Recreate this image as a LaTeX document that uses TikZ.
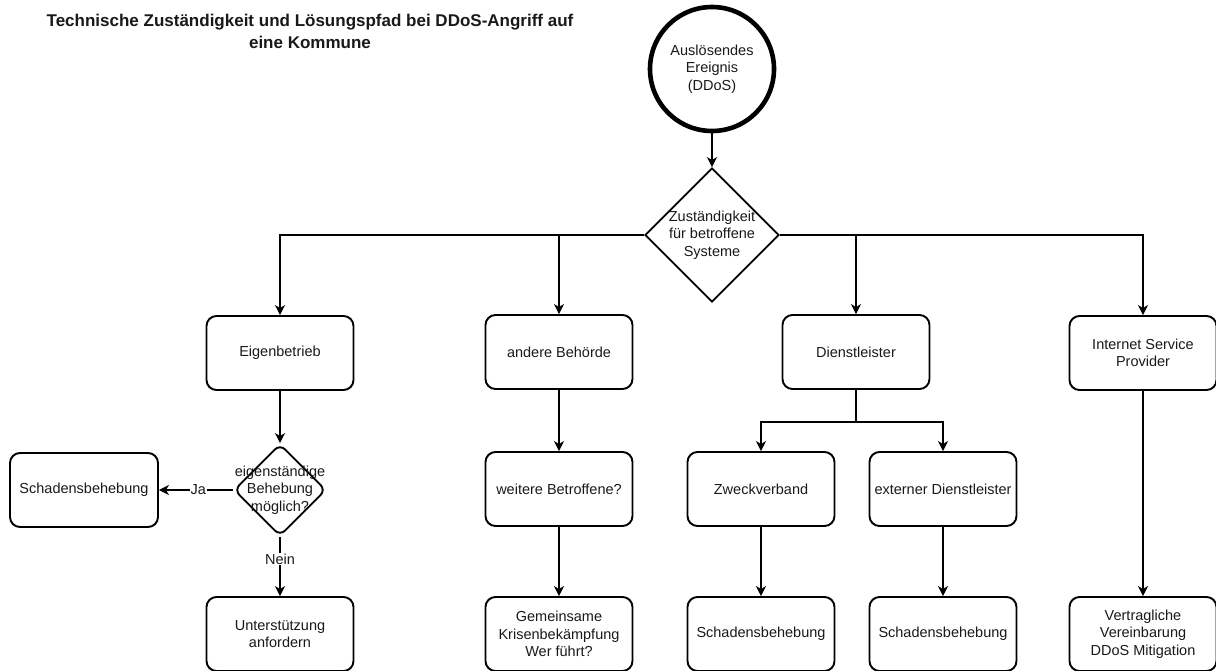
\documentclass[tikz,border=0pt]{standalone}
\usepackage{fontspec}
\setmainfont{Liberation Sans}
\usetikzlibrary{shapes.geometric,arrows.meta,calc}
\begin{document}
\begin{tikzpicture}[x=1pt,y=-1pt,
  every node/.style={font=\fontsize{14.5}{17.5}\selectfont, text=black!90},
  box/.style={draw, line width=1.9pt, rounded corners=10pt, minimum width=147pt,
              minimum height=74pt, align=center, inner sep=1pt},
  bigdecision/.style={draw, line width=1.9pt, diamond, aspect=1, minimum size=134pt, inner sep=0pt},
  smalldecision/.style={draw, line width=1.9pt, diamond, aspect=1, rounded corners=7pt,
              minimum size=92pt, inner sep=0pt},
  start/.style={draw, line width=4.6pt, circle, minimum size=124pt, inner sep=0pt, align=center},
  arr/.style={line width=1.2pt, -{Stealth[length=10pt,width=10pt,inset=3pt]}},
  conn/.style={line width=1.2pt},
  edgelabel/.style={fill=white, inner sep=1pt}
]
\useasboundingbox (0,0) rectangle (1216,670);

% title
\node[font=\fontsize{17}{22}\selectfont\bfseries, align=center] (title) at (310,31)
  {Technische Zuständigkeit und Lösungspfad bei DDoS-Angriff auf\\eine Kommune};

% trigger and main decision
\node[start] (start) at (712,69) {Auslösendes\\Ereignis\\(DDoS)};
\node[bigdecision, label={[align=center]center:Zuständigkeit\\für betroffene\\Systeme}] (resp) at (712,235) {};

% first row
\node[box] (eig) at (280,353) {Eigenbetrieb};
\node[box] (ab)  at (559,352) {andere Behörde};
\node[box] (dl)  at (856,352) {Dienstleister};
\node[box] (isp) at (1143,353) {Internet Service\\Provider};

% second row
\node[smalldecision, label={[align=center]center:eigenständige\\Behebung\\möglich?}] (own) at (280,490) {};
\node[box, minimum width=148pt] (sb1) at (84,490) {Schadensbehebung};
\node[box] (wb) at (559,489) {weitere Betroffene?};
\node[box] (zv) at (761,489) {Zweckverband};
\node[box] (ed) at (943,489) {externer Dienstleister};

% third row
\node[box] (ua)  at (280,634) {Unterstützung\\anfordern};
\node[box] (gk)  at (559,634) {Gemeinsame\\Krisenbekämpfung\\Wer führt?};
\node[box] (sb2) at (761,634) {Schadensbehebung};
\node[box] (sb3) at (943,634) {Schadensbehebung};
\node[box] (vv)  at (1143,634) {Vertragliche\\Vereinbarung\\DDoS Mitigation};

% connectors
\draw[arr] (start) -- (resp);
\draw[arr] (resp.west) -| (eig.north);
\draw[arr] (resp.west -| ab.north) -- (ab.north);
\draw[arr] (resp.east -| dl.north) -- (dl.north);
\draw[arr] (resp.east) -| (isp.north);

\draw[arr] (eig) -- (own);
\draw[arr] (own.west) -- node[edgelabel, pos=0.47] {Ja} (sb1.east);
\draw[arr] (own.south) -- node[edgelabel, pos=0.37] {Nein} (ua.north);

\draw[arr] (ab) -- (wb);
\draw[arr] (wb) -- (gk);

\coordinate (split) at ($(dl.south)+(0,32)$);
\draw[conn] (dl.south) -- (split);
\draw[arr] (split) -| (zv.north);
\draw[arr] (split) -| (ed.north);
\draw[arr] (zv) -- (sb2);
\draw[arr] (ed) -- (sb3);
\draw[arr] (isp) -- (vv);
\end{tikzpicture}
\end{document}
